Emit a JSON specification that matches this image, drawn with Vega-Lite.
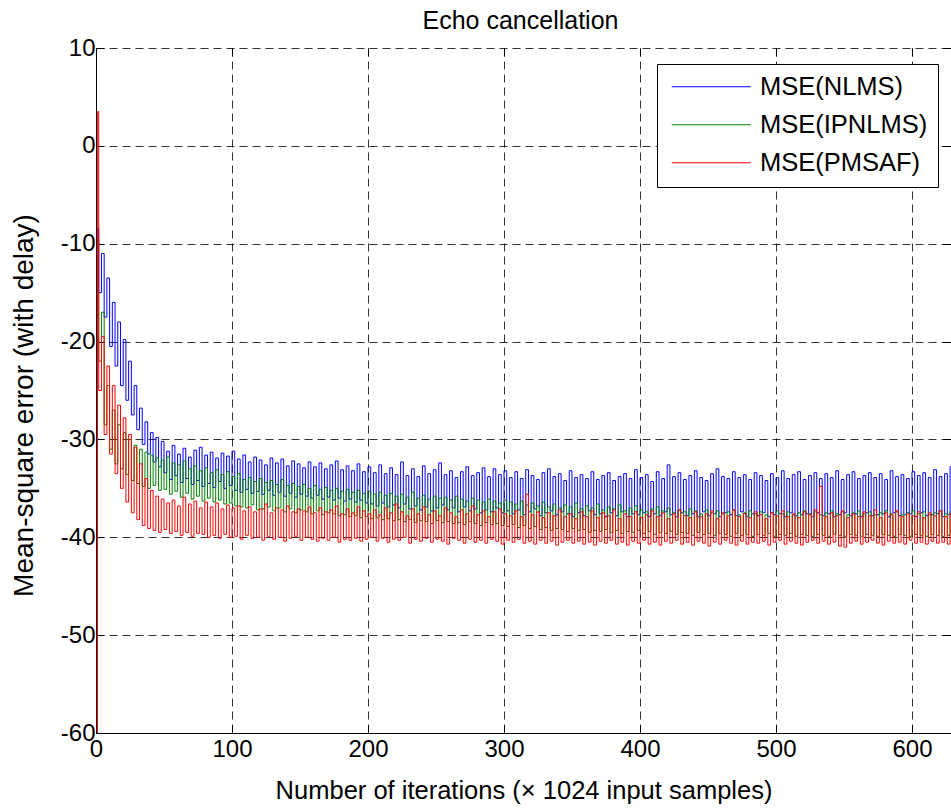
{
  "$schema": "https://vega.github.io/schema/vega-lite/v6.json",
  "width": 855,
  "height": 685,
  "autosize": {"type": "none"},
  "padding": {"left": 96, "top": 48, "right": 0, "bottom": 75},
  "background": "white",
  "config": {"view": {"stroke": null}, "font": "Liberation Sans"},
  "title": {"text": "Echo cancellation", "fontSize": 25, "font": "Liberation Sans", "fontWeight": "normal", "color": "black", "baseline": "alphabetic", "offset": -18, "frame": "group", "dx": -3},
  "data": {"values": [
    {"x":0,"n":-70,"i":-70,"p":-70},
    {"x":1,"n":-8.4,"i":-9.5,"p":3.5},
    {"x":2,"n":-15,"i":-22,"p":-25},
    {"x":4,"n":-11,"i":-17,"p":-19.5},
    {"x":6,"n":-17.5,"i":-28.5,"p":-29.5},
    {"x":8,"n":-13.5,"i":-24.5,"p":-22.5},
    {"x":10,"n":-20.5,"i":-31,"p":-31.5},
    {"x":12,"n":-16,"i":-27,"p":-24.5},
    {"x":14,"n":-22.5,"i":-32.5,"p":-33.5},
    {"x":16,"n":-18,"i":-28.5,"p":-26.5},
    {"x":18,"n":-24.5,"i":-33,"p":-35},
    {"x":20,"n":-19.8,"i":-29.3,"p":-27.8},
    {"x":22,"n":-26,"i":-33.6,"p":-36.4},
    {"x":24,"n":-22,"i":-30,"p":-29.5},
    {"x":26,"n":-27.5,"i":-34.2,"p":-37.5},
    {"x":28,"n":-24.5,"i":-30.6,"p":-30.8},
    {"x":30,"n":-29,"i":-34.5,"p":-38.2},
    {"x":32,"n":-26.8,"i":-31,"p":-32.5},
    {"x":34,"n":-30.5,"i":-34.8,"p":-38.8},
    {"x":36,"n":-28.2,"i":-31.3,"p":-34},
    {"x":38,"n":-31.5,"i":-35,"p":-39.1},
    {"x":40,"n":-29.3,"i":-31.6,"p":-35.2},
    {"x":42,"n":-32.3,"i":-34.7,"p":-39.3},
    {"x":44,"n":-29.8,"i":-31.9,"p":-35.8},
    {"x":46,"n":-32.8,"i":-35.2,"p":-39.5},
    {"x":48,"n":-30.2,"i":-32.1,"p":-36.1},
    {"x":50,"n":-33.4,"i":-35.1,"p":-39.2},
    {"x":52,"n":-31.2,"i":-31.8,"p":-36.5},
    {"x":54,"n":-34.1,"i":-35.6,"p":-39.6},
    {"x":56,"n":-30.6,"i":-32.4,"p":-36.2},
    {"x":58,"n":-33.7,"i":-35.3,"p":-39.4},
    {"x":60,"n":-31.5,"i":-32.6,"p":-36.8},
    {"x":62,"n":-34.4,"i":-35.9,"p":-39.8},
    {"x":64,"n":-30.9,"i":-32.2,"p":-35.9},
    {"x":66,"n":-34.0,"i":-35.5,"p":-39.5},
    {"x":68,"n":-31.8,"i":-33.0,"p":-36.6},
    {"x":70,"n":-34.6,"i":-36.1,"p":-39.9},
    {"x":72,"n":-31.1,"i":-32.7,"p":-36.3},
    {"x":74,"n":-34.2,"i":-35.8,"p":-39.6},
    {"x":76,"n":-30.8,"i":-33.2,"p":-37.0},
    {"x":78,"n":-34.8,"i":-36.3,"p":-39.7},
    {"x":80,"n":-31.6,"i":-32.9,"p":-36.4},
    {"x":82,"n":-34.5,"i":-36.0,"p":-40.0},
    {"x":84,"n":-31.3,"i":-33.4,"p":-36.9},
    {"x":86,"n":-34.9,"i":-36.4,"p":-39.8},
    {"x":88,"n":-31.9,"i":-33.1,"p":-36.5},
    {"x":90,"n":-34.3,"i":-36.2,"p":-40.1},
    {"x":92,"n":-31.4,"i":-33.6,"p":-37.1},
    {"x":94,"n":-35.0,"i":-36.6,"p":-39.7},
    {"x":96,"n":-31.7,"i":-33.3,"p":-36.7},
    {"x":98,"n":-34.7,"i":-36.5,"p":-40.0},
    {"x":100,"n":-31.2,"i":-33.8,"p":-37.0},
    {"x":102,"n":-35.2,"i":-36.8,"p":-39.9},
    {"x":104,"n":-32.0,"i":-33.5,"p":-36.8},
    {"x":106,"n":-35.4,"i":-36.9,"p":-40.2},
    {"x":108,"n":-31.6,"i":-34.1,"p":-37.3},
    {"x":110,"n":-35.1,"i":-37.0,"p":-39.8},
    {"x":112,"n":-32.3,"i":-33.9,"p":-36.9},
    {"x":114,"n":-35.5,"i":-36.7,"p":-40.1},
    {"x":116,"n":-31.8,"i":-34.3,"p":-37.4},
    {"x":118,"n":-35.3,"i":-37.2,"p":-40.0},
    {"x":120,"n":-32.1,"i":-34.0,"p":-37.1},
    {"x":122,"n":-35.6,"i":-37.1,"p":-40.3},
    {"x":124,"n":-32.6,"i":-34.4,"p":-36.6},
    {"x":126,"n":-35.2,"i":-36.9,"p":-39.9},
    {"x":128,"n":-31.9,"i":-34.2,"p":-37.5},
    {"x":130,"n":-35.7,"i":-37.3,"p":-40.2},
    {"x":132,"n":-32.4,"i":-34.6,"p":-37.0},
    {"x":134,"n":-35.4,"i":-37.0,"p":-40.0},
    {"x":136,"n":-32.0,"i":-34.1,"p":-37.2},
    {"x":138,"n":-35.8,"i":-37.4,"p":-40.4},
    {"x":140,"n":-32.7,"i":-34.7,"p":-36.8},
    {"x":142,"n":-35.5,"i":-37.1,"p":-40.1},
    {"x":144,"n":-32.2,"i":-34.5,"p":-37.4},
    {"x":146,"n":-35.9,"i":-37.5,"p":-39.9},
    {"x":148,"n":-32.5,"i":-34.8,"p":-37.1},
    {"x":150,"n":-35.6,"i":-37.2,"p":-40.3},
    {"x":152,"n":-32.9,"i":-34.6,"p":-37.3},
    {"x":154,"n":-35.8,"i":-37.4,"p":-40.0},
    {"x":156,"n":-32.3,"i":-35.0,"p":-36.9},
    {"x":158,"n":-36.0,"i":-37.6,"p":-40.2},
    {"x":160,"n":-32.8,"i":-34.7,"p":-37.5},
    {"x":162,"n":-35.7,"i":-37.3,"p":-40.4},
    {"x":164,"n":-32.4,"i":-35.1,"p":-37.0},
    {"x":166,"n":-36.1,"i":-37.7,"p":-40.1},
    {"x":168,"n":-33.0,"i":-34.9,"p":-37.4},
    {"x":170,"n":-35.9,"i":-37.5,"p":-40.3},
    {"x":172,"n":-32.6,"i":-35.2,"p":-37.2},
    {"x":174,"n":-36.2,"i":-37.6,"p":-40.0},
    {"x":176,"n":-32.2,"i":-35.0,"p":-36.8},
    {"x":178,"n":-36.0,"i":-37.8,"p":-40.5},
    {"x":180,"n":-33.1,"i":-35.3,"p":-37.6},
    {"x":182,"n":-36.3,"i":-37.7,"p":-40.2},
    {"x":184,"n":-32.7,"i":-35.1,"p":-37.1},
    {"x":186,"n":-36.1,"i":-37.9,"p":-40.3},
    {"x":188,"n":-33.2,"i":-35.4,"p":-37.5},
    {"x":190,"n":-36.4,"i":-37.8,"p":-40.1},
    {"x":192,"n":-32.5,"i":-35.2,"p":-36.9},
    {"x":194,"n":-36.2,"i":-38.0,"p":-40.4},
    {"x":196,"n":-33.3,"i":-35.5,"p":-37.3},
    {"x":198,"n":-36.5,"i":-37.9,"p":-40.2},
    {"x":200,"n":-32.8,"i":-35.3,"p":-37.6},
    {"x":202,"n":-36.6,"i":-38.1,"p":-40.0},
    {"x":204,"n":-33.4,"i":-35.6,"p":-37.2},
    {"x":206,"n":-36.8,"i":-38.0,"p":-40.4},
    {"x":208,"n":-32.6,"i":-35.4,"p":-37.7},
    {"x":210,"n":-36.5,"i":-38.2,"p":-40.1},
    {"x":212,"n":-33.5,"i":-35.7,"p":-37.0},
    {"x":214,"n":-36.9,"i":-38.1,"p":-40.5},
    {"x":216,"n":-32.9,"i":-35.5,"p":-37.5},
    {"x":218,"n":-36.7,"i":-38.3,"p":-40.2},
    {"x":220,"n":-33.6,"i":-35.8,"p":-36.6},
    {"x":222,"n":-37.0,"i":-38.2,"p":-40.3},
    {"x":224,"n":-32.3,"i":-35.6,"p":-37.4},
    {"x":226,"n":-36.6,"i":-38.4,"p":-40.0},
    {"x":228,"n":-33.7,"i":-35.9,"p":-37.8},
    {"x":230,"n":-37.1,"i":-38.2,"p":-40.6},
    {"x":232,"n":-33.0,"i":-35.4,"p":-37.1},
    {"x":234,"n":-36.8,"i":-38.5,"p":-40.2},
    {"x":236,"n":-33.8,"i":-36.0,"p":-37.6},
    {"x":238,"n":-37.2,"i":-38.3,"p":-40.4},
    {"x":240,"n":-32.7,"i":-35.7,"p":-36.9},
    {"x":242,"n":-36.9,"i":-38.4,"p":-40.1},
    {"x":244,"n":-33.5,"i":-36.1,"p":-37.7},
    {"x":246,"n":-37.3,"i":-38.6,"p":-40.5},
    {"x":248,"n":-33.1,"i":-35.8,"p":-37.3},
    {"x":250,"n":-37.0,"i":-38.3,"p":-40.2},
    {"x":252,"n":-32.4,"i":-36.0,"p":-37.8},
    {"x":254,"n":-36.7,"i":-38.5,"p":-40.4},
    {"x":256,"n":-33.6,"i":-35.9,"p":-37.0},
    {"x":258,"n":-37.2,"i":-38.4,"p":-40.7},
    {"x":260,"n":-33.2,"i":-36.2,"p":-37.5},
    {"x":262,"n":-37.0,"i":-38.6,"p":-40.1},
    {"x":264,"n":-33.9,"i":-35.8,"p":-37.9},
    {"x":266,"n":-37.4,"i":-38.5,"p":-40.3},
    {"x":268,"n":-33.3,"i":-36.1,"p":-37.2},
    {"x":270,"n":-36.9,"i":-38.7,"p":-40.6},
    {"x":272,"n":-32.8,"i":-36.3,"p":-37.6},
    {"x":274,"n":-37.3,"i":-38.4,"p":-40.2},
    {"x":276,"n":-33.7,"i":-36.0,"p":-36.8},
    {"x":278,"n":-37.1,"i":-38.6,"p":-40.5},
    {"x":280,"n":-33.4,"i":-36.2,"p":-37.7},
    {"x":282,"n":-37.5,"i":-38.8,"p":-40.3},
    {"x":284,"n":-32.9,"i":-36.4,"p":-37.3},
    {"x":286,"n":-37.2,"i":-38.5,"p":-40.6},
    {"x":288,"n":-33.8,"i":-36.1,"p":-37.9},
    {"x":290,"n":-37.4,"i":-38.7,"p":-40.2},
    {"x":292,"n":-33.0,"i":-36.3,"p":-37.4},
    {"x":294,"n":-37.0,"i":-38.6,"p":-40.4},
    {"x":296,"n":-33.6,"i":-36.5,"p":-37.1},
    {"x":298,"n":-37.5,"i":-38.8,"p":-40.7},
    {"x":300,"n":-33.2,"i":-36.2,"p":-37.6},
    {"x":302,"n":-37.3,"i":-38.9,"p":-40.3},
    {"x":304,"n":-33.9,"i":-36.4,"p":-37.8},
    {"x":306,"n":-37.6,"i":-38.7,"p":-40.5},
    {"x":308,"n":-33.3,"i":-36.6,"p":-37.3},
    {"x":310,"n":-37.2,"i":-39.0,"p":-40.2},
    {"x":312,"n":-34.0,"i":-36.3,"p":-37.9},
    {"x":314,"n":-37.7,"i":-38.8,"p":-40.6},
    {"x":316,"n":-33.1,"i":-36.7,"p":-35.6},
    {"x":318,"n":-37.4,"i":-39.1,"p":-40.4},
    {"x":320,"n":-33.7,"i":-36.5,"p":-37.7},
    {"x":322,"n":-37.1,"i":-38.9,"p":-40.7},
    {"x":324,"n":-34.1,"i":-36.8,"p":-37.4},
    {"x":326,"n":-37.8,"i":-39.2,"p":-40.3},
    {"x":328,"n":-33.4,"i":-36.4,"p":-38.0},
    {"x":330,"n":-37.5,"i":-39.0,"p":-40.6},
    {"x":332,"n":-33.0,"i":-36.9,"p":-37.5},
    {"x":334,"n":-37.3,"i":-39.3,"p":-40.4},
    {"x":336,"n":-33.8,"i":-36.6,"p":-37.8},
    {"x":338,"n":-37.7,"i":-39.1,"p":-40.8},
    {"x":340,"n":-33.5,"i":-37.0,"p":-37.2},
    {"x":342,"n":-37.4,"i":-39.2,"p":-40.5},
    {"x":344,"n":-34.2,"i":-36.7,"p":-37.9},
    {"x":346,"n":-37.6,"i":-39.4,"p":-40.3},
    {"x":348,"n":-33.2,"i":-36.9,"p":-37.6},
    {"x":350,"n":-37.9,"i":-39.1,"p":-40.6},
    {"x":352,"n":-33.9,"i":-36.5,"p":-38.1},
    {"x":354,"n":-37.5,"i":-39.3,"p":-40.4},
    {"x":356,"n":-33.6,"i":-37.1,"p":-37.4},
    {"x":358,"n":-37.8,"i":-39.2,"p":-40.7},
    {"x":360,"n":-34.0,"i":-36.8,"p":-37.9},
    {"x":362,"n":-37.3,"i":-39.5,"p":-40.5},
    {"x":364,"n":-33.3,"i":-37.0,"p":-37.3},
    {"x":366,"n":-37.7,"i":-39.3,"p":-40.8},
    {"x":368,"n":-34.1,"i":-36.6,"p":-38.0},
    {"x":370,"n":-37.6,"i":-39.4,"p":-40.4},
    {"x":372,"n":-33.7,"i":-37.2,"p":-37.5},
    {"x":374,"n":-37.9,"i":-39.2,"p":-40.6},
    {"x":376,"n":-33.4,"i":-36.9,"p":-37.8},
    {"x":378,"n":-37.5,"i":-39.5,"p":-40.3},
    {"x":380,"n":-34.2,"i":-37.1,"p":-37.2},
    {"x":382,"n":-37.8,"i":-39.3,"p":-40.7},
    {"x":384,"n":-33.8,"i":-36.7,"p":-38.1},
    {"x":386,"n":-37.4,"i":-39.6,"p":-40.5},
    {"x":388,"n":-33.5,"i":-37.3,"p":-37.6},
    {"x":390,"n":-37.9,"i":-39.4,"p":-40.8},
    {"x":392,"n":-34.0,"i":-37.0,"p":-37.9},
    {"x":394,"n":-37.6,"i":-39.5,"p":-40.4},
    {"x":396,"n":-33.1,"i":-36.8,"p":-37.4},
    {"x":398,"n":-37.7,"i":-39.3,"p":-40.6},
    {"x":400,"n":-33.9,"i":-37.2,"p":-38.0},
    {"x":402,"n":-37.5,"i":-39.6,"p":-40.3},
    {"x":404,"n":-33.6,"i":-37.4,"p":-37.7},
    {"x":406,"n":-37.9,"i":-39.4,"p":-40.7},
    {"x":408,"n":-34.3,"i":-37.1,"p":-37.3},
    {"x":410,"n":-37.6,"i":-39.7,"p":-40.5},
    {"x":412,"n":-33.3,"i":-36.9,"p":-37.9},
    {"x":414,"n":-37.8,"i":-39.5,"p":-40.8},
    {"x":416,"n":-34.0,"i":-37.3,"p":-37.5},
    {"x":418,"n":-37.4,"i":-39.6,"p":-40.4},
    {"x":420,"n":-32.6,"i":-37.0,"p":-38.1},
    {"x":422,"n":-37.7,"i":-39.4,"p":-40.6},
    {"x":424,"n":-33.8,"i":-37.5,"p":-37.6},
    {"x":426,"n":-37.9,"i":-39.7,"p":-40.3},
    {"x":428,"n":-33.4,"i":-37.2,"p":-37.2},
    {"x":430,"n":-37.5,"i":-39.5,"p":-40.7},
    {"x":432,"n":-34.1,"i":-37.4,"p":-37.8},
    {"x":434,"n":-37.8,"i":-39.6,"p":-40.5},
    {"x":436,"n":-33.7,"i":-37.1,"p":-38.0},
    {"x":438,"n":-37.6,"i":-39.8,"p":-40.8},
    {"x":440,"n":-33.2,"i":-37.3,"p":-37.4},
    {"x":442,"n":-37.9,"i":-39.5,"p":-40.4},
    {"x":444,"n":-33.9,"i":-37.6,"p":-37.9},
    {"x":446,"n":-37.4,"i":-39.7,"p":-40.6},
    {"x":448,"n":-34.2,"i":-37.2,"p":-37.6},
    {"x":450,"n":-37.8,"i":-39.6,"p":-40.9},
    {"x":452,"n":-33.5,"i":-37.5,"p":-37.3},
    {"x":454,"n":-37.6,"i":-39.8,"p":-40.5},
    {"x":456,"n":-33.0,"i":-37.3,"p":-38.1},
    {"x":458,"n":-37.9,"i":-39.6,"p":-40.7},
    {"x":460,"n":-33.8,"i":-37.6,"p":-37.5},
    {"x":462,"n":-37.5,"i":-39.7,"p":-40.3},
    {"x":464,"n":-34.0,"i":-37.4,"p":-37.8},
    {"x":466,"n":-37.7,"i":-39.9,"p":-40.6},
    {"x":468,"n":-33.3,"i":-37.2,"p":-37.2},
    {"x":470,"n":-37.8,"i":-39.6,"p":-40.8},
    {"x":472,"n":-33.9,"i":-37.7,"p":-37.9},
    {"x":474,"n":-37.4,"i":-39.8,"p":-40.4},
    {"x":476,"n":-33.6,"i":-37.5,"p":-37.6},
    {"x":478,"n":-37.9,"i":-39.7,"p":-40.7},
    {"x":480,"n":-34.1,"i":-37.3,"p":-38.0},
    {"x":482,"n":-37.6,"i":-39.9,"p":-40.5},
    {"x":484,"n":-33.4,"i":-37.6,"p":-37.4},
    {"x":486,"n":-37.8,"i":-39.7,"p":-40.6},
    {"x":488,"n":-33.7,"i":-37.4,"p":-37.7},
    {"x":490,"n":-37.5,"i":-39.8,"p":-40.4},
    {"x":492,"n":-34.2,"i":-37.7,"p":-38.1},
    {"x":494,"n":-37.9,"i":-39.6,"p":-40.8},
    {"x":496,"n":-33.5,"i":-37.5,"p":-37.5},
    {"x":498,"n":-37.7,"i":-39.9,"p":-40.5},
    {"x":500,"n":-33.9,"i":-37.3,"p":-37.8},
    {"x":502,"n":-37.6,"i":-39.7,"p":-40.3},
    {"x":504,"n":-33.2,"i":-37.6,"p":-37.3},
    {"x":506,"n":-37.9,"i":-39.8,"p":-40.7},
    {"x":508,"n":-34.0,"i":-37.4,"p":-37.9},
    {"x":510,"n":-37.5,"i":-39.6,"p":-40.4},
    {"x":512,"n":-33.6,"i":-37.7,"p":-37.6},
    {"x":514,"n":-37.8,"i":-39.9,"p":-40.6},
    {"x":516,"n":-33.3,"i":-37.5,"p":-38.0},
    {"x":518,"n":-37.7,"i":-39.7,"p":-40.8},
    {"x":520,"n":-34.1,"i":-37.3,"p":-37.4},
    {"x":522,"n":-37.6,"i":-39.8,"p":-40.5},
    {"x":524,"n":-33.7,"i":-37.6,"p":-37.7},
    {"x":526,"n":-37.9,"i":-39.9,"p":-40.3},
    {"x":528,"n":-33.4,"i":-37.4,"p":-37.2},
    {"x":530,"n":-37.5,"i":-39.7,"p":-40.6},
    {"x":532,"n":-34.0,"i":-37.7,"p":-34.8},
    {"x":534,"n":-37.8,"i":-39.8,"p":-40.4},
    {"x":536,"n":-33.5,"i":-37.5,"p":-37.9},
    {"x":538,"n":-37.6,"i":-39.9,"p":-40.7},
    {"x":540,"n":-33.9,"i":-37.3,"p":-37.5},
    {"x":542,"n":-37.9,"i":-39.7,"p":-40.5},
    {"x":544,"n":-33.2,"i":-37.6,"p":-37.8},
    {"x":546,"n":-37.7,"i":-39.8,"p":-40.9},
    {"x":548,"n":-34.1,"i":-37.4,"p":-37.3},
    {"x":550,"n":-37.5,"i":-39.9,"p":-41.0},
    {"x":552,"n":-33.6,"i":-37.7,"p":-38.0},
    {"x":554,"n":-37.8,"i":-39.7,"p":-40.6},
    {"x":556,"n":-33.3,"i":-37.5,"p":-37.6},
    {"x":558,"n":-37.6,"i":-39.8,"p":-40.4},
    {"x":560,"n":-34.0,"i":-37.3,"p":-37.9},
    {"x":562,"n":-37.9,"i":-39.9,"p":-40.7},
    {"x":564,"n":-33.7,"i":-37.6,"p":-37.4},
    {"x":566,"n":-37.5,"i":-39.7,"p":-40.5},
    {"x":568,"n":-33.4,"i":-37.4,"p":-37.8},
    {"x":570,"n":-37.8,"i":-39.8,"p":-40.3},
    {"x":572,"n":-33.9,"i":-37.7,"p":-37.2},
    {"x":574,"n":-37.7,"i":-39.9,"p":-40.6},
    {"x":576,"n":-33.5,"i":-37.5,"p":-38.0},
    {"x":578,"n":-37.6,"i":-39.7,"p":-40.8},
    {"x":580,"n":-34.1,"i":-37.3,"p":-37.5},
    {"x":582,"n":-37.9,"i":-39.8,"p":-40.4},
    {"x":584,"n":-33.2,"i":-37.6,"p":-37.7},
    {"x":586,"n":-37.5,"i":-39.9,"p":-40.6},
    {"x":588,"n":-33.8,"i":-37.4,"p":-37.3},
    {"x":590,"n":-37.8,"i":-39.7,"p":-40.5},
    {"x":592,"n":-33.6,"i":-37.7,"p":-37.9},
    {"x":594,"n":-37.7,"i":-39.8,"p":-40.7},
    {"x":596,"n":-34.0,"i":-37.5,"p":-37.6},
    {"x":598,"n":-37.6,"i":-39.9,"p":-40.3},
    {"x":600,"n":-33.3,"i":-37.3,"p":-37.8},
    {"x":602,"n":-37.9,"i":-39.7,"p":-40.6},
    {"x":604,"n":-33.7,"i":-37.6,"p":-37.4},
    {"x":606,"n":-37.5,"i":-39.8,"p":-40.5},
    {"x":608,"n":-33.4,"i":-37.4,"p":-38.0},
    {"x":610,"n":-37.8,"i":-39.9,"p":-40.7},
    {"x":612,"n":-33.9,"i":-37.7,"p":-37.5},
    {"x":614,"n":-37.7,"i":-39.7,"p":-40.4},
    {"x":616,"n":-33.1,"i":-37.5,"p":-37.8},
    {"x":618,"n":-37.6,"i":-39.8,"p":-40.6},
    {"x":620,"n":-33.8,"i":-37.3,"p":-37.3},
    {"x":622,"n":-37.9,"i":-39.9,"p":-40.5},
    {"x":624,"n":-33.5,"i":-37.6,"p":-37.9},
    {"x":626,"n":-37.7,"i":-39.8,"p":-40.7},
    {"x":628,"n":-32.8,"i":-37.4,"p":-37.6},
    {"x":630,"n":-37.6,"i":-39.7,"p":-40.4}
  ]},
  "transform": [{"fold": ["n", "i", "p"], "as": ["s", "v"]}],
  "layer": [
    {
      "mark": {"type": "line", "strokeWidth": 1, "clip": true, "interpolate": "step-after"},
      "encoding": {
        "x": {"field": "x", "type": "quantitative",
          "scale": {"domain": [0, 628.7], "nice": false, "zero": false},
          "axis": {"orient": "bottom", "values": [0,100,200,300,400,500,600],
            "title": "Number of iterations (× 1024 input samples)",
            "titleFontSize": 25.5, "titleFont": "Liberation Sans", "titleFontWeight": "normal", "titleColor": "black",
            "titleY": 65, "titleBaseline": "alphabetic",
            "labelFontSize": 24, "labelFont": "Liberation Sans", "labelColor": "black", "labelPadding": 12,
            "labelFlush": false, "labelOverlap": false,
            "tickSize": -8, "tickColor": "black", "tickWidth": 1,
            "domainColor": "black", "domainWidth": 1,
            "grid": true, "gridColor": "black", "gridDash": [8, 5], "gridWidth": 1, "gridOpacity": 0.8}},
        "y": {"field": "v", "type": "quantitative",
          "scale": {"domain": [-60, 10], "nice": false, "zero": false},
          "axis": {"orient": "left", "values": [-60,-50,-40,-30,-20,-10,0,10],
            "labelExpr": "'' + datum.value",
            "title": "Mean-square error (with delay)",
            "titleFontSize": 28, "titleFont": "Liberation Sans", "titleFontWeight": "normal", "titleColor": "black",
            "titleX": -64, "titleY": 357, "titleAngle": -90, "titleBaseline": "alphabetic", "titleAlign": "center",
            "labelFontSize": 24, "labelFont": "Liberation Sans", "labelColor": "black", "labelPadding": 9,
            "labelOverlap": false,
            "tickSize": -8, "tickColor": "black", "tickWidth": 1,
            "domainColor": "black", "domainWidth": 1,
            "grid": true, "gridColor": "black", "gridDash": [8, 5], "gridWidth": 1, "gridOpacity": 0.8}},
        "color": {"field": "s", "type": "nominal",
          "scale": {"domain": ["n", "i", "p"], "range": ["#0000ff", "#008000", "#ff0000"]},
          "legend": {"orient": "none", "legendX": 561, "legendY": 16, "title": null,
            "labelExpr": "datum.label == 'n' ? 'MSE(NLMS)' : datum.label == 'i' ? 'MSE(IPNLMS)' : 'MSE(PMSAF)'",
            "labelFontSize": 25.5, "labelFont": "Liberation Sans", "labelColor": "black", "labelLimit": 400,
            "symbolType": "M-3.95,0H3.95", "symbolSize": 400, "symbolStrokeWidth": 1,
            "symbolOffset": 31.5, "labelOffset": 36,
            "strokeColor": "black", "fillColor": "white", "padding": 10, "rowPadding": 11}}
      }
    },
    {
      "mark": {"type": "point", "opacity": 0},
      "encoding": {
        "x": {"field": "x", "type": "quantitative",
          "scale": {"domain": [0, 628.7], "nice": false, "zero": false},
          "axis": {"orient": "top", "values": [0,100,200,300,400,500,600], "title": null, "labels": false,
            "domain": false, "grid": false, "tickSize": -8, "tickColor": "black", "tickWidth": 1}},
        "y": {"field": "v", "type": "quantitative",
          "scale": {"domain": [-60, 10], "nice": false, "zero": false},
          "axis": {"orient": "right", "values": [-60,-50,-40,-30,-20,-10,0,10], "title": null, "labels": false,
            "domain": false, "grid": false, "tickSize": -8, "tickColor": "black", "tickWidth": 1}}
      }
    }
  ],
  "resolve": {"axis": {"x": "independent", "y": "independent"}}
}
